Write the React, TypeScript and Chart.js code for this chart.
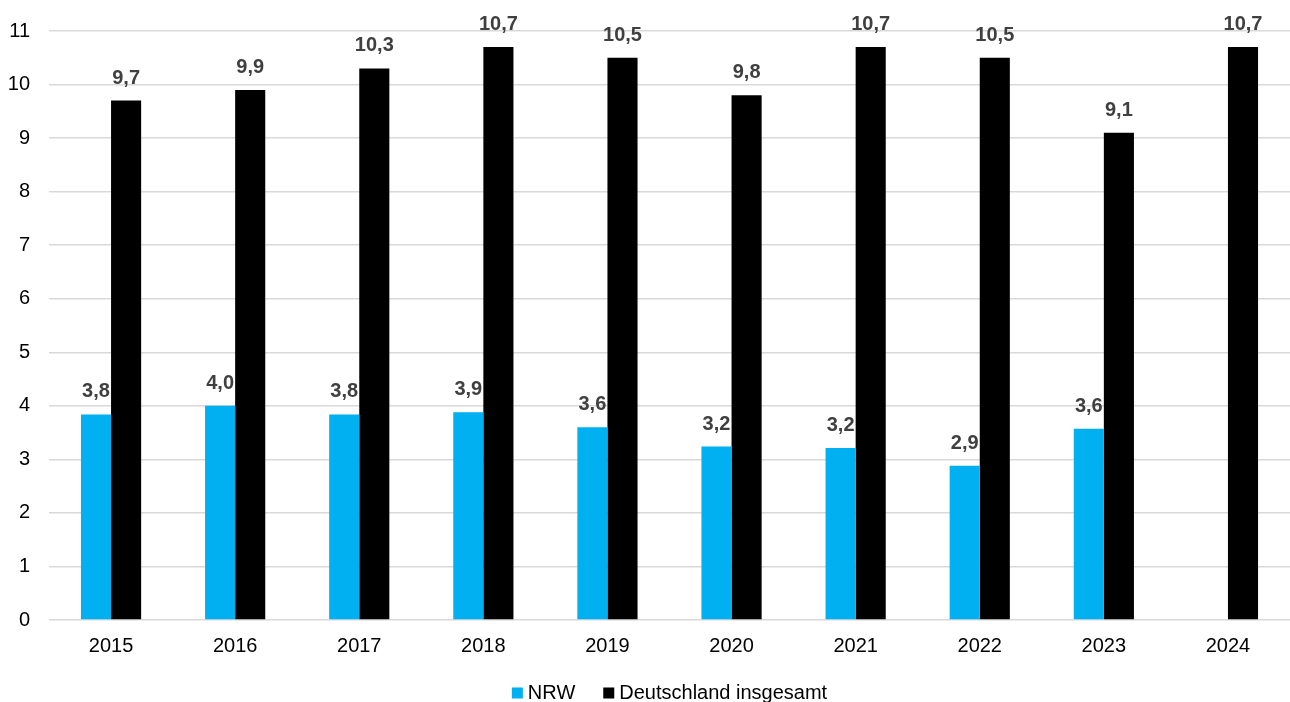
import React, { useEffect, useRef } from "react";
import { Chart, registerables } from "chart.js";

Chart.register(...registerables);

const years = ["2015", "2016", "2017", "2018", "2019", "2020", "2021", "2022", "2023", "2024"];
const nrwValues: (number | null)[] = [3.84, 4.0, 3.84, 3.88, 3.6, 3.24, 3.21, 2.88, 3.57, null];
const deutschlandValues: number[] = [9.7, 9.9, 10.3, 10.7, 10.5, 9.8, 10.7, 10.5, 9.1, 10.7];
const seriesNames = ["NRW", "Deutschland insgesamt"];
const seriesColors = ["#00B0F0", "#000000"];
const yMax = 11;

const FONT = '"Liberation Sans", Arial, Helvetica, sans-serif';

const dataLabelPlugin = {
  id: "dataLabels",
  afterDatasetsDraw(chart: any) {
    const ctx = chart.ctx;
    ctx.save();
    ctx.font = `bold 20px ${FONT}`;
    ctx.fillStyle = "#404040";
    ctx.textAlign = "center";
    ctx.textBaseline = "alphabetic";
    chart.data.datasets.forEach((ds: any, di: number) => {
      const meta = chart.getDatasetMeta(di);
      meta.data.forEach((el: any, i: number) => {
        const v = ds.data[i];
        if (v === null || v === undefined) return;
        const txt = v.toFixed(1).replace(".", ",");
        ctx.fillText(txt, el.x, el.y - 17);
      });
    });
    ctx.restore();
  },
};

const bottomLegendPlugin = {
  id: "bottomLegend",
  afterDraw(chart: any) {
    const ctx = chart.ctx;
    const area = chart.chartArea;
    ctx.save();
    ctx.font = `20px ${FONT}`;
    ctx.textBaseline = "middle";
    ctx.textAlign = "left";
    const box = 11;
    const gapBoxText = 5;
    const gapItems = 28;
    const items = chart.data.datasets.map((ds: any) => ({
      text: ds.label,
      color: ds.backgroundColor,
      w: box + gapBoxText + ctx.measureText(ds.label).width,
    }));
    const total = items.reduce((s: number, it: any) => s + it.w, 0) + gapItems * (items.length - 1);
    let x = (area.left + area.right) / 2 - total / 2;
    const y = area.bottom + 73;
    items.forEach((it: any) => {
      ctx.fillStyle = it.color;
      ctx.fillRect(x, y - box / 2, box, box);
      ctx.fillStyle = "#000000";
      ctx.fillText(it.text, x + box + gapBoxText, y);
      x += it.w + gapItems;
    });
    ctx.restore();
  },
};

export default function App() {
  const ref = useRef<HTMLCanvasElement>(null);
  useEffect(() => {
    if (!ref.current) return;
    const chart = new Chart(ref.current, {
      type: "bar",
      data: {
        labels: years,
        datasets: [
          {
            label: seriesNames[0],
            data: nrwValues,
            backgroundColor: seriesColors[0],
            categoryPercentage: 0.485,
            barPercentage: 1,
          },
          {
            label: seriesNames[1],
            data: deutschlandValues,
            backgroundColor: seriesColors[1],
            categoryPercentage: 0.485,
            barPercentage: 1,
          },
        ],
      },
      options: {
        animation: false,
        responsive: true,
        maintainAspectRatio: false,
        layout: { padding: { left: 8, right: 0, top: 23, bottom: 30 } },
        plugins: {
          legend: { display: false },
          tooltip: { enabled: false },
        },
        scales: {
          x: {
            grid: { display: false, drawTicks: false },
            border: { display: false },
            ticks: { font: { family: FONT, size: 20 }, color: "#000000", padding: 14 },
          },
          y: {
            min: 0,
            max: yMax,
            grid: { color: "#d9d9d9", lineWidth: 1.5, drawTicks: false },
            border: { display: false },
            ticks: {
              stepSize: 1,
              font: { family: FONT, size: 20 },
              color: "#000000",
              padding: 19,
            },
            afterFit: (scale: any) => {
              scale.width = 41;
            },
          },
        },
      },
      plugins: [dataLabelPlugin, bottomLegendPlugin],
    });
    return () => chart.destroy();
  }, []);
  return (
    <div style={{ position: "absolute", left: 0, top: 0, width: 1290, height: 702, overflow: "hidden", background: "#fff" }}>
      <div style={{ width: 1290, height: 702 }}>
        <canvas ref={ref} />
      </div>
    </div>
  );
}
